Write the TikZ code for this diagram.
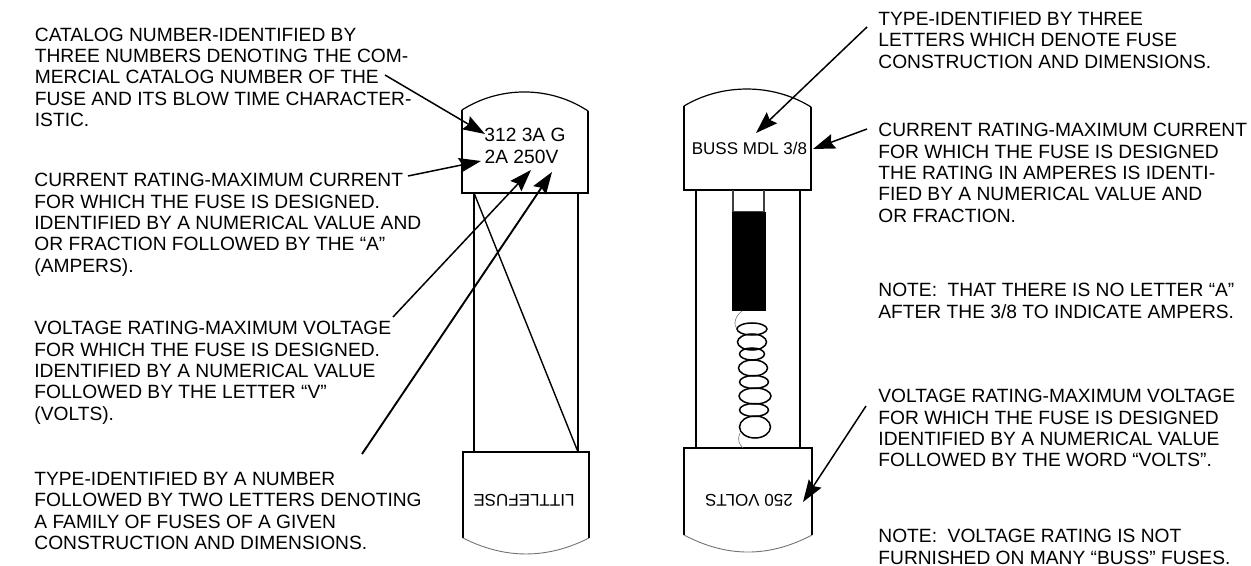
\documentclass[tikz,border=0pt]{standalone}
\usepackage{fontspec}
\setmainfont{Liberation Sans}
\usetikzlibrary{arrows.meta}
\tikzset{
    notetext/.style={anchor=north west, inner sep=0pt, align=left, font=\fontsize{9.6}{10.65}\selectfont},
    fusetext/.style={inner sep=0pt, font=\fontsize{9.6}{10.65}\selectfont},
    smallfusetext/.style={inner sep=0pt, font=\fontsize{8.5}{10}\selectfont},
    fuseline/.style={draw=black, line width=0.95pt},
    thinline/.style={draw=black, line width=0.6pt},
    wireline/.style={draw=black!55, line width=0.3pt},
    coilturn/.style={draw=black, line width=0.75pt},
    pointer/.style={draw=black, line width=0.75pt, -{Stealth[length=11pt, width=7.5pt, inset=1.5pt]}}
}

\begin{document}
\begin{tikzpicture}[x=0.5pt, y=-0.5pt]
    \useasboundingbox (0,0) rectangle (1251,566);

    % Left fuse - body
    \draw[fuseline] (474,193) -- (474,452);
    \draw[fuseline] (578,193) -- (578,452);
    \draw[thinline, line width=0.7pt] (474,193) -- (578,452);
    % Left fuse - top cap
    \draw[fuseline] (462,110) -- (462,193) -- (588,193) -- (588,111);
    \draw[thinline] (462,110) .. controls (500,85.8) and (550,85.8) .. (588,111);
    % Left fuse - bottom cap
    \draw[fuseline] (463,538) -- (463,452) -- (589,452) -- (589,538);
    \draw[wireline, line width=0.45pt] (463,538) .. controls (505,559.3) and (547,559.3) .. (589,538);

    % Right fuse - body
    \draw[fuseline] (696,190) -- (696,448);
    \draw[fuseline] (800,190) -- (800,448);
    % Right fuse - top cap
    \draw[fuseline] (684,106) -- (684,190) -- (811,190) -- (811,107);
    \draw[thinline] (684,106) .. controls (722,83.2) and (773,83.2) .. (811,107);
    % Right fuse - bottom cap
    \draw[fuseline] (684,535) -- (684,448) -- (812,448) -- (812,535);
    \draw[wireline, line width=0.45pt] (684,535) .. controls (727,557.7) and (769,557.7) .. (812,535);

    % Right fuse - element
    \draw[draw=black!75, line width=0.7pt] (733,190) -- (733,212) -- (764,212) -- (764,190);
    \fill[black] (732,212) rectangle (766,311);
    \draw[wireline] (742,311) .. controls (735,316) and (733,325) .. (737,329);
    \draw[coilturn] (752,329) ellipse (15 and 6);
    \draw[coilturn] (752,342) ellipse (14.5 and 8);
    \draw[coilturn] (752,354) ellipse (12.5 and 6);
    \draw[coilturn] (753,368) ellipse (14.5 and 8);
    \draw[coilturn] (754,382) ellipse (14.5 and 6.5);
    \draw[coilturn] (755,396) ellipse (16 and 8);
    \draw[coilturn] (754,410) ellipse (14.5 and 6.5);
    \draw[coilturn] (755,427) ellipse (15.5 and 11);
    \draw[wireline] (740,433) .. controls (737,440) and (739,444) .. (743,448);

    % Fuse markings
    \node (leftmarka) at (525,135) [fusetext] {312 3A G};
    \node (leftmarkb) at (521.5,156.5) [fusetext] {2A 250V};
    \node (leftmarkc) at (524,500) [smallfusetext, rotate=180] {LITTLEFUSE};
    \node (rightmarka) at (749.5,148) [smallfusetext] {BUSS MDL 3/8};
    \node (rightmarkc) at (749,500) [smallfusetext, rotate=180] {250 VOLTS};

    % Left notes
    \node (catalognote) at (34.5,27.5) [notetext] {CATALOG NUMBER-IDENTIFIED BY\\THREE NUMBERS DENOTING THE COM-\\MERCIAL CATALOG NUMBER OF THE\\FUSE AND ITS BLOW TIME CHARACTER-\\ISTIC.};
    \node (currentnote) at (34,173) [notetext] {CURRENT RATING-MAXIMUM CURRENT\\FOR WHICH THE FUSE IS DESIGNED.\\IDENTIFIED BY A NUMERICAL VALUE AND\\OR FRACTION FOLLOWED BY THE “A”\\(AMPERS).};
    \node (voltagenote) at (34,321) [notetext] {VOLTAGE RATING-MAXIMUM VOLTAGE\\FOR WHICH THE FUSE IS DESIGNED.\\IDENTIFIED BY A NUMERICAL VALUE\\FOLLOWED BY THE LETTER “V”\\(VOLTS).};
    \node (typenote) at (34,472) [notetext] {TYPE-IDENTIFIED BY A NUMBER\\FOLLOWED BY TWO LETTERS DENOTING\\A FAMILY OF FUSES OF A GIVEN\\CONSTRUCTION AND DIMENSIONS.};

    % Right notes
    \node (rtypenote) at (878,12) [notetext] {TYPE-IDENTIFIED BY THREE\\LETTERS WHICH DENOTE FUSE\\CONSTRUCTION AND DIMENSIONS.};
    \node (rcurrentnote) at (878,123) [notetext] {CURRENT RATING-MAXIMUM CURRENT\\FOR WHICH THE FUSE IS DESIGNED\\THE RATING IN AMPERES IS IDENTI-\\FIED BY A NUMERICAL VALUE AND\\OR FRACTION.};
    \node (anote) at (878,283) [notetext] {NOTE:\ \ THAT THERE IS NO LETTER “A”\\AFTER THE 3/8 TO INDICATE AMPERS.};
    \node (rvoltagenote) at (878,389) [notetext] {VOLTAGE RATING-MAXIMUM VOLTAGE\\FOR WHICH THE FUSE IS DESIGNED\\IDENTIFIED BY A NUMERICAL VALUE\\FOLLOWED BY THE WORD “VOLTS”.};
    \node (buildnote) at (878,529) [notetext] {NOTE:\ \ VOLTAGE RATING IS NOT\\FURNISHED ON MANY “BUSS” FUSES.};

    % Pointer ends
    \coordinate (catalogstart) at (385,75);
    \coordinate (catalogtip) at (485,134);
    \coordinate (currentstart) at (408,176);
    \coordinate (currenttip) at (481,161);
    \coordinate (voltagestart) at (393,317);
    \coordinate (voltagetip) at (531,170);
    \coordinate (typestart) at (362,454);
    \coordinate (typetip) at (552,172);
    \coordinate (rtypestart) at (867,27);
    \coordinate (rtypetip) at (756,133);
    \coordinate (rcurrentstart) at (867,129);
    \coordinate (rcurrenttip) at (813,149);
    \coordinate (rvoltagestart) at (866,406);
    \coordinate (rvoltagetip) at (803,502);

    % Pointers
    \draw[pointer] (catalogstart) -- (catalogtip);
    \draw[pointer] (currentstart) -- (currenttip);
    \draw[pointer] (voltagestart) -- (voltagetip);
    \draw[pointer, line width=0.95pt] (typestart) -- (typetip);
    \draw[pointer] (rtypestart) -- (rtypetip);
    \draw[pointer] (rcurrentstart) -- (rcurrenttip);
    \draw[pointer] (rvoltagestart) -- (rvoltagetip);

\end{tikzpicture}
\end{document}
